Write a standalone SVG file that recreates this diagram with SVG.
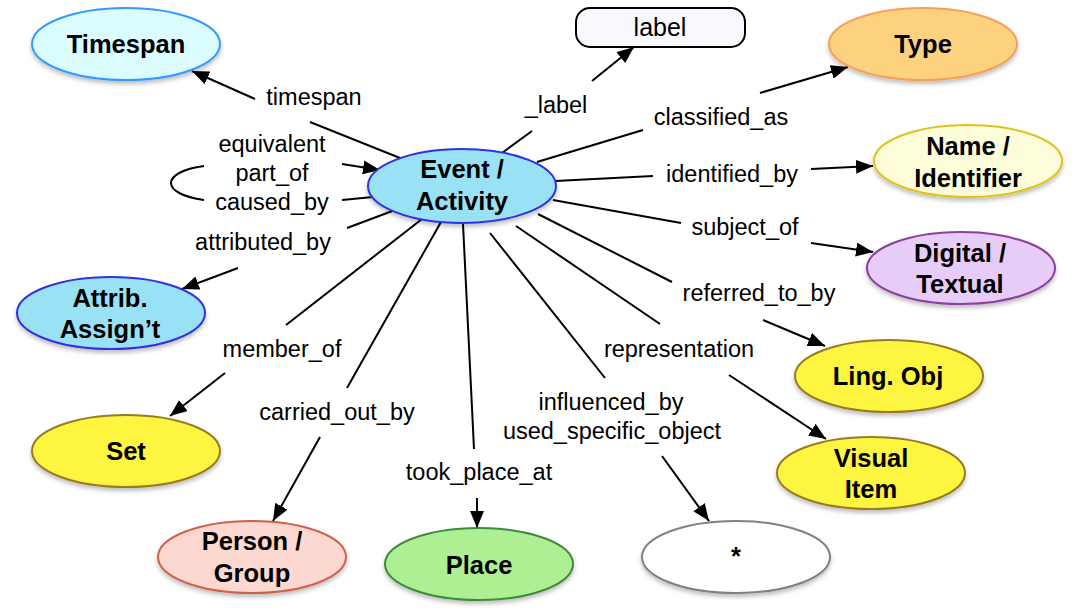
<svg xmlns="http://www.w3.org/2000/svg" width="1080" height="616" viewBox="0 0 1080 616">
<defs>
<style>
.n{stroke-width:2;filter:url(#sh)}
.t{font-family:"Liberation Sans",Arial,sans-serif;font-weight:bold;font-size:25.5px;text-anchor:middle;fill:#000}
.l{font-family:"Liberation Sans",Arial,sans-serif;font-size:23.5px;text-anchor:middle;fill:#000}
.e{fill:none;stroke:#000;stroke-width:2}
.a{fill:none;stroke:#000;stroke-width:2;marker-end:url(#ah)}
</style>
<marker id="ah" markerUnits="userSpaceOnUse" markerWidth="18" markerHeight="14" refX="17" refY="7" orient="auto">
<path d="M0,0 L17,7 L0,14 z" fill="#000"/>
</marker>
<filter id="sh" x="-20%" y="-20%" width="140%" height="150%">
<feDropShadow dx="0" dy="3" stdDeviation="2" flood-color="#000" flood-opacity="0.25"/>
</filter>
</defs>
<rect width="1080" height="616" fill="#fff"/>
<g id="connectors">
<line class="e" x1="400" y1="158" x2="310" y2="122"/>
<line class="a" x1="255" y1="99" x2="192" y2="71"/>
<line class="e" x1="502" y1="153" x2="532" y2="131"/>
<line class="a" x1="592" y1="81" x2="634" y2="47"/>
<line class="e" x1="537" y1="162" x2="643" y2="130"/>
<line class="a" x1="760" y1="93" x2="848" y2="67"/>
<line class="e" x1="555" y1="181" x2="653" y2="176"/>
<line class="a" x1="811" y1="169" x2="873" y2="166"/>
<line class="e" x1="553" y1="200" x2="681" y2="223"/>
<line class="a" x1="811" y1="243" x2="873" y2="252"/>
<line class="e" x1="538" y1="214" x2="672" y2="282"/>
<line class="a" x1="763" y1="320" x2="825" y2="346"/>
<line class="e" x1="516" y1="226" x2="660" y2="324"/>
<line class="a" x1="729" y1="375" x2="826" y2="439"/>
<line class="e" x1="490" y1="233" x2="605" y2="378"/>
<line class="a" x1="662" y1="456" x2="709" y2="521"/>
<line class="e" x1="463" y1="224" x2="474" y2="449"/>
<line class="a" x1="477" y1="498" x2="477" y2="528"/>
<line class="e" x1="441" y1="222" x2="347" y2="388"/>
<line class="a" x1="320" y1="437" x2="273" y2="521"/>
<line class="e" x1="422" y1="219" x2="286" y2="325"/>
<line class="a" x1="225" y1="373" x2="170" y2="416"/>
<line class="e" x1="395" y1="210" x2="347" y2="228"/>
<line class="a" x1="238" y1="268" x2="182" y2="289"/>
<line class="a" x1="342" y1="164" x2="380" y2="170"/>
<line class="e" x1="342" y1="200" x2="373" y2="197"/>
<path class="e" d="M204,166 C160,172 160,194 204,200"/>
</g>
<g id="edge-labels">
<text class="l" x="314" y="105">timespan</text>
<text class="l" x="556" y="113">_label</text>
<text class="l" x="721" y="125">classified_as</text>
<text class="l" x="272" y="152">equivalent</text>
<text class="l" x="272" y="181">part_of</text>
<text class="l" x="272" y="210">caused_by</text>
<text class="l" x="732" y="182">identified_by</text>
<text class="l" x="745" y="235">subject_of</text>
<text class="l" x="263" y="250">attributed_by</text>
<text class="l" x="759" y="301">referred_to_by</text>
<text class="l" x="282" y="357">member_of</text>
<text class="l" x="679" y="357">representation</text>
<text class="l" x="337" y="420">carried_out_by</text>
<text class="l" x="611" y="410">influenced_by</text>
<text class="l" x="612" y="439">used_specific_object</text>
<text class="l" x="479" y="480">took_place_at</text>
</g>
<g id="timespan">
<ellipse class="n" cx="126" cy="44" rx="94" ry="36" fill="#dcfdff" stroke="#3399ff"/>
<text class="t" x="126" y="53">Timespan</text>
</g>
<g id="label">
<rect x="576" y="8" width="169" height="39" rx="14" fill="#f8f8ff" stroke="#000" stroke-width="2"/>
<text class="l" style="font-size:25px" x="660" y="36">label</text>
</g>
<g id="type">
<ellipse class="n" cx="923" cy="44" rx="94" ry="36" fill="#fdd27f" stroke="#f5a05a"/>
<text class="t" x="923" y="53">Type</text>
</g>
<g id="event">
<ellipse class="n" cx="462" cy="186" rx="94" ry="37" fill="#99e1f5" stroke="#3030e0"/>
<text class="t" x="462" y="178">Event /</text>
<text class="t" x="462" y="210">Activity</text>
</g>
<g id="name">
<ellipse class="n" cx="968" cy="161" rx="94" ry="36" fill="#fdfdda" stroke="#e0c21b"/>
<text class="t" x="968" y="155">Name /</text>
<text class="t" x="968" y="187">Identifier</text>
</g>
<g id="digital">
<ellipse class="n" cx="961" cy="268" rx="94" ry="36" fill="#e8ccf8" stroke="#8b3fa0"/>
<text class="t" x="960" y="262">Digital /</text>
<text class="t" x="960" y="293">Textual</text>
</g>
<g id="attrib">
<ellipse class="n" cx="111" cy="313" rx="94" ry="36" fill="#99e1f5" stroke="#3030e0"/>
<text class="t" x="110" y="307">Attrib.</text>
<text class="t" x="110" y="338">Assign’t</text>
</g>
<g id="lingobj">
<ellipse class="n" cx="889" cy="376" rx="94" ry="36" fill="#fdf540" stroke="#9a7a20"/>
<text class="t" x="888" y="385">Ling. Obj</text>
</g>
<g id="set">
<ellipse class="n" cx="126" cy="451" rx="94" ry="36" fill="#fdf540" stroke="#9a7a20"/>
<text class="t" x="126" y="460">Set</text>
</g>
<g id="visual">
<ellipse class="n" cx="871" cy="473" rx="94" ry="36" fill="#fdf540" stroke="#9a7a20"/>
<text class="t" x="871" y="467">Visual</text>
<text class="t" x="871" y="498">Item</text>
</g>
<g id="person">
<ellipse class="n" cx="252" cy="557" rx="94" ry="36" fill="#fdd8d0" stroke="#d0604c"/>
<text class="t" x="252" y="550">Person /</text>
<text class="t" x="252" y="582">Group</text>
</g>
<g id="place">
<ellipse class="n" cx="479" cy="564" rx="94" ry="36" fill="#aeef93" stroke="#3d8b3d"/>
<text class="t" x="479" y="574">Place</text>
</g>
<g id="any">
<ellipse class="n" cx="736" cy="557" rx="94" ry="36" fill="#fff" stroke="#808080"/>
<text class="t" x="736" y="565">*</text>
</g>
</svg>
